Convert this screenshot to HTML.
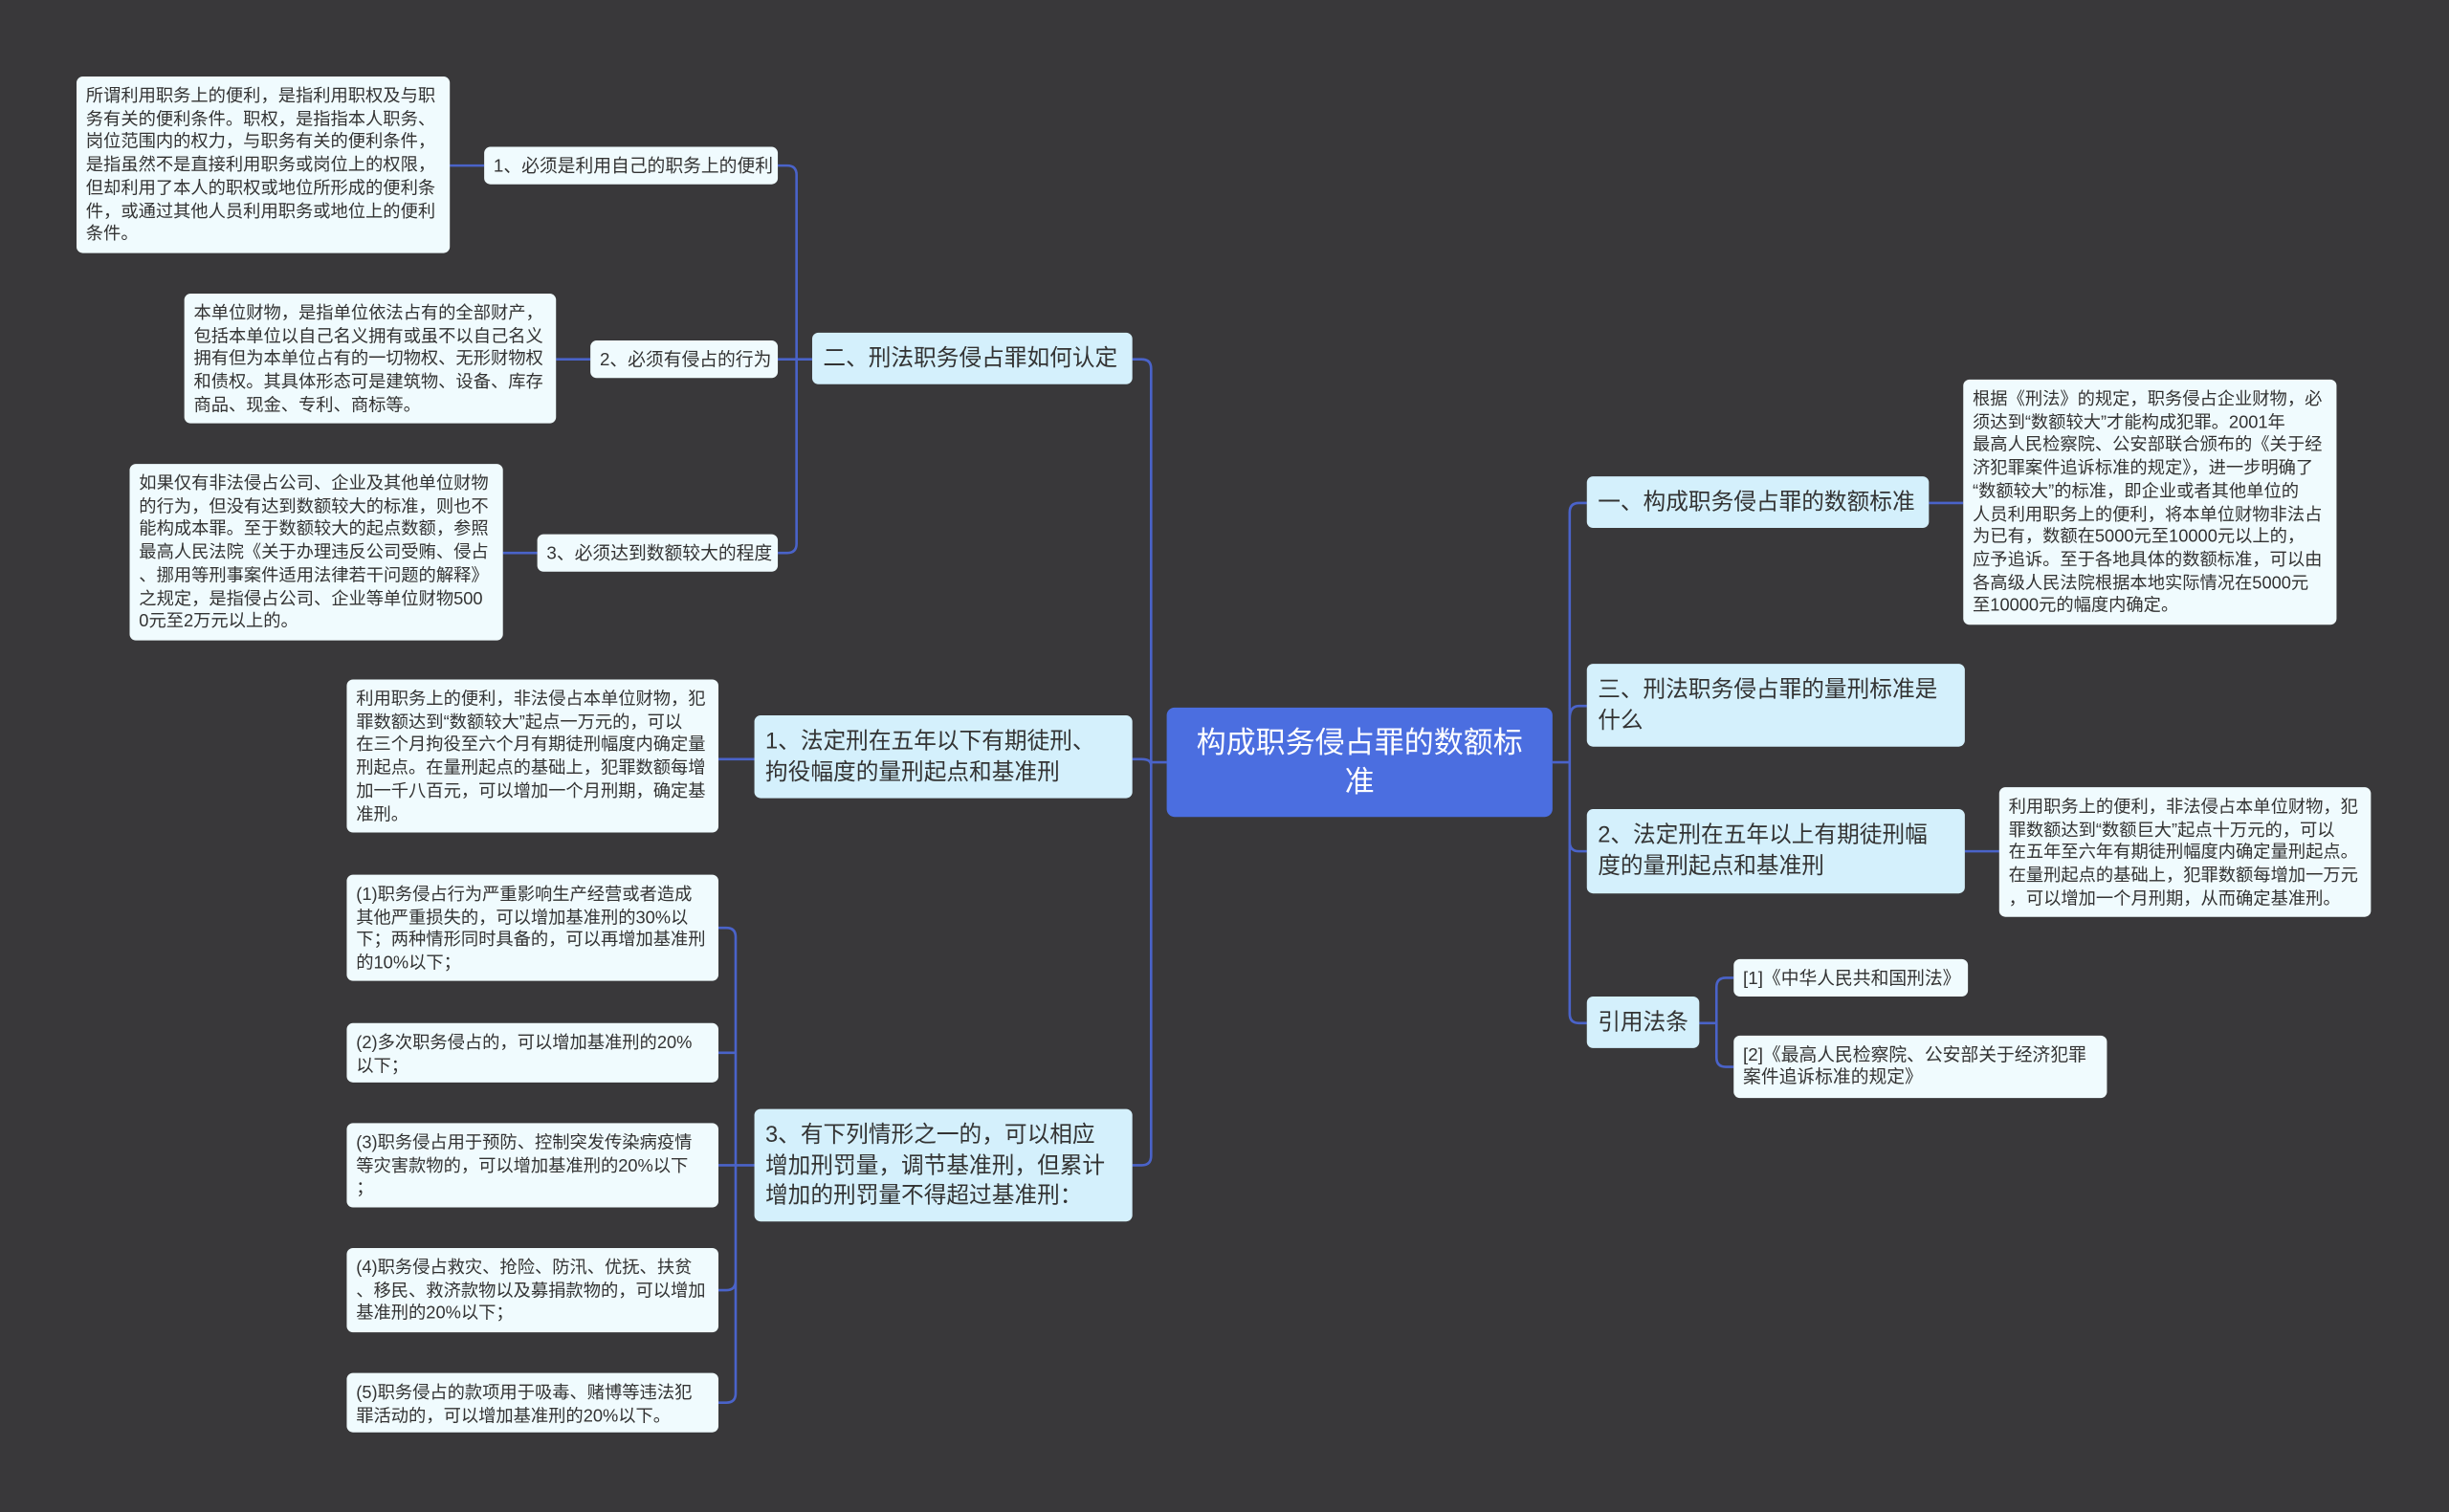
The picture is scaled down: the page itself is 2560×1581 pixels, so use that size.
<!DOCTYPE html>
<html><head><meta charset="utf-8"><style>
html,body{margin:0;padding:0;background:#39383a;}
#w{position:relative;width:1568px;height:968px;transform:scale(1.63265,1.63326);transform-origin:0 0;font-family:"Liberation Sans","Noto Sans CJK SC",sans-serif;}
.n{position:absolute;box-sizing:border-box;color:#333;white-space:nowrap;}
.leaf{background:#f0fbfe;border-radius:4px;font-size:11.2px;line-height:14.7px;padding:6px 6px 4px;}
.sub{background:#f0fbfe;border-radius:4px;font-size:11.5px;line-height:14px;padding:6px 6px 4px;}
.main{background:#d4f0fc;border-radius:4px;font-size:14.5px;line-height:19.5px;padding:8px 7px 5px;}
.c{background:#4b6ee0;color:#fff;border-radius:5px;font-size:19px;line-height:25px;text-align:center;padding:11px 6px 7px;}
svg{position:absolute;left:0;top:0;}
</style></head><body><div id="w">
<svg width="1568" height="968" fill="none" stroke="#4a63c9" stroke-width="1.6">
<path d="M747 488 H737 M737 488 V236 Q737 230 731 230 H725 M737 480 V490 Q737 486 731 486 H725 M737 488 V740 Q737 746 731 746 H725"/>
<path d="M994 488 H1005 M1005 488 V328 Q1005 322 1011 322 H1016 M1005 460 Q1005 452 1011 452 H1016 M1005 488 V539 Q1005 545 1011 545 H1016 M1005 488 V649 Q1005 655 1011 655 H1016"/>
<path d="M520 230 H510 M510 230 V112 Q510 106 504 106 H498 M510 230 H498 M510 230 V348 Q510 354 504 354 H498"/>
<path d="M310 106 H288 M378 230 H356 M344 354 H322 M483 486 H460"/>
<path d="M483 746 H471 M471 746 V600 Q471 594 465 594 H460 M471 674 H460 M471 746 H460 M471 746 V820 Q471 826 465 826 H460 M471 746 V892 Q471 898 465 898 H460"/>
<path d="M1235 322 H1257 M1258 545 H1280 M1088 655 H1099 M1099 655 V632 Q1099 626 1105 626 H1110 M1099 655 V677 Q1099 683 1105 683 H1110"/>
</svg>
<div class="n c" style="left:747px;top:453px;width:247px;height:70px;">构成职务侵占罪的数额标<br>准</div>
<div class="n main" style="left:520px;top:213px;width:205px;height:33px;">二、刑法职务侵占罪如何认定</div>
<div class="n main" style="left:483px;top:458px;width:242px;height:53px;">1、法定刑在五年以下有期徒刑、<br>拘役幅度的量刑起点和基准刑</div>
<div class="n main" style="left:483px;top:710px;width:242px;height:72px;">3、有下列情形之一的，可以相应<br>增加刑罚量，调节基准刑，但累计<br>增加的刑罚量不得超过基准刑：</div>
<div class="n main" style="left:1016px;top:305px;width:219px;height:33px;">一、构成职务侵占罪的数额标准</div>
<div class="n main" style="left:1016px;top:425px;width:242px;height:53px;">三、刑法职务侵占罪的量刑标准是<br>什么</div>
<div class="n main" style="left:1016px;top:518px;width:242px;height:54px;">2、法定刑在五年以上有期徒刑幅<br>度的量刑起点和基准刑</div>
<div class="n main" style="left:1016px;top:638px;width:72px;height:33px;">引用法条</div>
<div class="n sub" style="left:310px;top:94px;width:188px;height:24px;">1、必须是利用自己的职务上的便利</div>
<div class="n sub" style="left:378px;top:218px;width:120px;height:24px;">2、必须有侵占的行为</div>
<div class="n sub" style="left:344px;top:342px;width:154px;height:24px;">3、必须达到数额较大的程度</div>
<div class="n sub" style="left:1110px;top:614px;width:150px;height:24px;">[1]《中华人民共和国刑法》</div>
<div class="n sub" style="left:1110px;top:663px;width:239px;height:40px;">[2]《最高人民检察院、公安部关于经济犯罪<br>案件追诉标准的规定》</div>
<div class="n leaf" style="left:49px;top:49px;width:239px;height:113px;">所谓利用职务上的便利，是指利用职权及与职<br>务有关的便利条件。职权，是指指本人职务、<br>岗位范围内的权力，与职务有关的便利条件，<br>是指虽然不是直接利用职务或岗位上的权限，<br>但却利用了本人的职权或地位所形成的便利条<br>件，或通过其他人员利用职务或地位上的便利<br>条件。</div>
<div class="n leaf" style="left:118px;top:188px;width:238px;height:83px;">本单位财物，是指单位依法占有的全部财产，<br>包括本单位以自己名义拥有或虽不以自己名义<br>拥有但为本单位占有的一切物权、无形财物权<br>和债权。其具体形态可是建筑物、设备、库存<br>商品、现金、专利、商标等。</div>
<div class="n leaf" style="left:83px;top:297px;width:239px;height:113px;">如果仅有非法侵占公司、企业及其他单位财物<br>的行为，但没有达到数额较大的标准，则也不<br>能构成本罪。至于数额较大的起点数额，参照<br>最高人民法院《关于办理违反公司受贿、侵占<br>、挪用等刑事案件适用法律若干问题的解释》<br>之规定，是指侵占公司、企业等单位财物500<br>0元至2万元以上的。</div>
<div class="n leaf" style="left:222px;top:435px;width:238px;height:98px;">利用职务上的便利，非法侵占本单位财物，犯<br>罪数额达到“数额较大”起点一万元的，可以<br>在三个月拘役至六个月有期徒刑幅度内确定量<br>刑起点。在量刑起点的基础上，犯罪数额每增<br>加一千八百元，可以增加一个月刑期，确定基<br>准刑。</div>
<div class="n leaf" style="left:222px;top:560px;width:238px;height:68px;">(1)职务侵占行为严重影响生产经营或者造成<br>其他严重损失的，可以增加基准刑的30%以<br>下；两种情形同时具备的，可以再增加基准刑<br>的10%以下；</div>
<div class="n leaf" style="left:222px;top:655px;width:238px;height:38px;">(2)多次职务侵占的，可以增加基准刑的20%<br>以下；</div>
<div class="n leaf" style="left:222px;top:719px;width:238px;height:54px;">(3)职务侵占用于预防、控制突发传染病疫情<br>等灾害款物的，可以增加基准刑的20%以下<br>；</div>
<div class="n leaf" style="left:222px;top:799px;width:238px;height:54px;">(4)职务侵占救灾、抢险、防汛、优抚、扶贫<br>、移民、救济款物以及募捐款物的，可以增加<br>基准刑的20%以下；</div>
<div class="n leaf" style="left:222px;top:879px;width:238px;height:38px;">(5)职务侵占的款项用于吸毒、赌博等违法犯<br>罪活动的，可以增加基准刑的20%以下。</div>
<div class="n leaf" style="left:1257px;top:243px;width:239px;height:157px;">根据《刑法》的规定，职务侵占企业财物，必<br>须达到“数额较大”才能构成犯罪。2001年<br>最高人民检察院、公安部联合颁布的《关于经<br>济犯罪案件追诉标准的规定》，进一步明确了<br>“数额较大”的标准，即企业或者其他单位的<br>人员利用职务上的便利，将本单位财物非法占<br>为已有，数额在5000元至10000元以上的，<br>应予追诉。至于各地具体的数额标准，可以由<br>各高级人民法院根据本地实际情况在5000元<br>至10000元的幅度内确定。</div>
<div class="n leaf" style="left:1280px;top:504px;width:238px;height:83px;">利用职务上的便利，非法侵占本单位财物，犯<br>罪数额达到“数额巨大”起点十万元的，可以<br>在五年至六年有期徒刑幅度内确定量刑起点。<br>在量刑起点的基础上，犯罪数额每增加一万元<br>，可以增加一个月刑期，从而确定基准刑。</div>
</div></body></html>
